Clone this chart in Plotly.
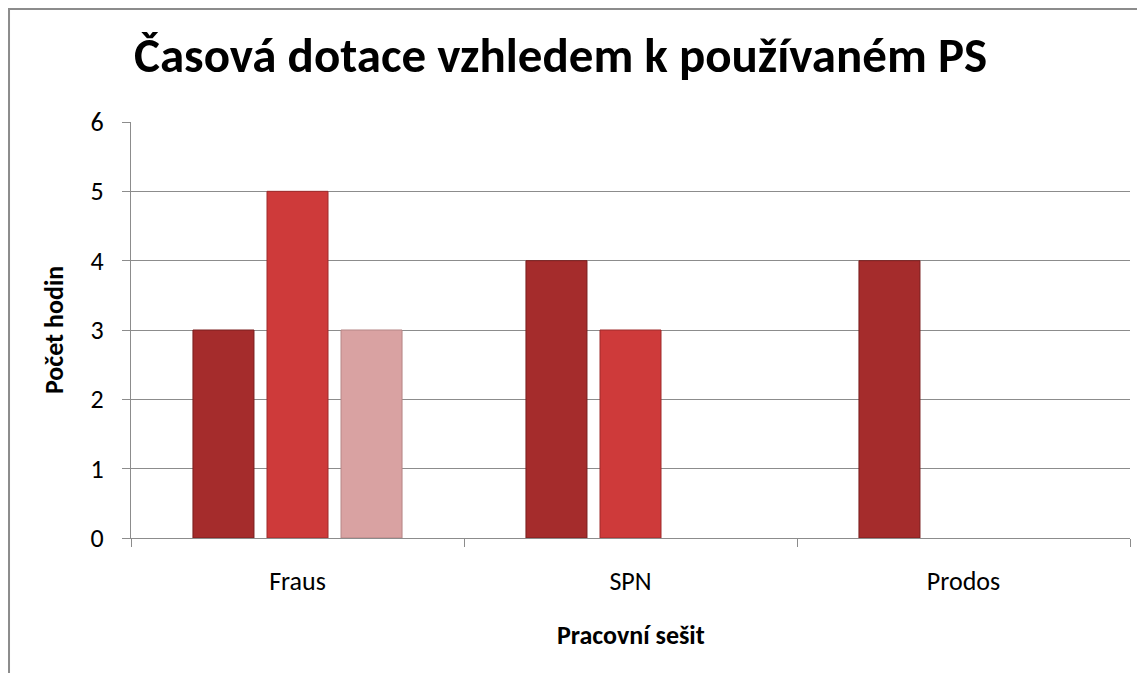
import plotly.graph_objects as go

categories = ["Fraus", "SPN", "Prodos"]
series1 = [3, 4, 4]
series2 = [5, 3, None]
series3 = [3, None, None]
y_ticks = [0, 1, 2, 3, 4, 5, 6]

title_text = "Časová dotace vzhledem k používaném PS"
x_title = "Pracovní sešit"
y_title = "Počet hodin"

FONT = "Carlito, Lato, 'Open Sans', sans-serif"

fig = go.Figure()
colors = ["#A52C2C", "#CE3A3A", "#D9A2A2"]
lines = ["#7A1E1E", "#9E2A2A", "#B58585"]
for name, vals, c, lc in zip(["Řada 1", "Řada 2", "Řada 3"], [series1, series2, series3], colors, lines):
    fig.add_trace(go.Bar(x=categories, y=vals, name=name,
                         marker=dict(color=c, line=dict(color=lc, width=1))))

fig.update_layout(
    width=1137, height=665,
    margin=dict(l=123, r=15, t=114, b=135),
    paper_bgcolor="white", plot_bgcolor="white",
    showlegend=False,
    barmode="group", bargap=0.333, bargroupgap=0.176,
    font=dict(family=FONT, size=26, color="black"),
    title=dict(text="<b>" + title_text + "</b>", x=0.486, xanchor="center",
               y=0.929, yanchor="middle", font=dict(family=FONT, size=49, color="black")),
)
fig.update_yaxes(range=[0, 6], tickvals=y_ticks, showgrid=True, gridcolor="#8C8C8C", gridwidth=1,
                 showline=True, linecolor="#8C8C8C", linewidth=1,
                 ticks="outside", ticklen=8, tickcolor="#8C8C8C", ticklabelstandoff=13,
                 zeroline=False, tickfont=dict(size=26))
fig.update_xaxes(showline=True, linecolor="#8C8C8C", linewidth=1,
                 ticks="outside", ticklen=8, tickcolor="#8C8C8C", tickson="boundaries",
                 ticklabelstandoff=20, tickfont=dict(size=26))

fig.add_annotation(text="<b>" + y_title + "</b>", xref="paper", yref="paper",
                   x=-0.077, y=0.5, xanchor="center", yanchor="middle",
                   textangle=-90, showarrow=False,
                   font=dict(family=FONT, size=26, color="black"))
fig.add_annotation(text="<b>" + x_title + "</b>", xref="paper", yref="paper",
                   x=0.5, y=-0.233, xanchor="center", yanchor="middle", showarrow=False,
                   font=dict(family=FONT, size=26, color="black"))

fig.add_shape(type="rect", xref="paper", yref="paper",
              x0=-0.1221, x1=1.03, y0=-0.35, y1=1.2716,
              line=dict(color="#8C8C8C", width=2), fillcolor="rgba(0,0,0,0)", layer="below")

fig.write_html("out.html")
